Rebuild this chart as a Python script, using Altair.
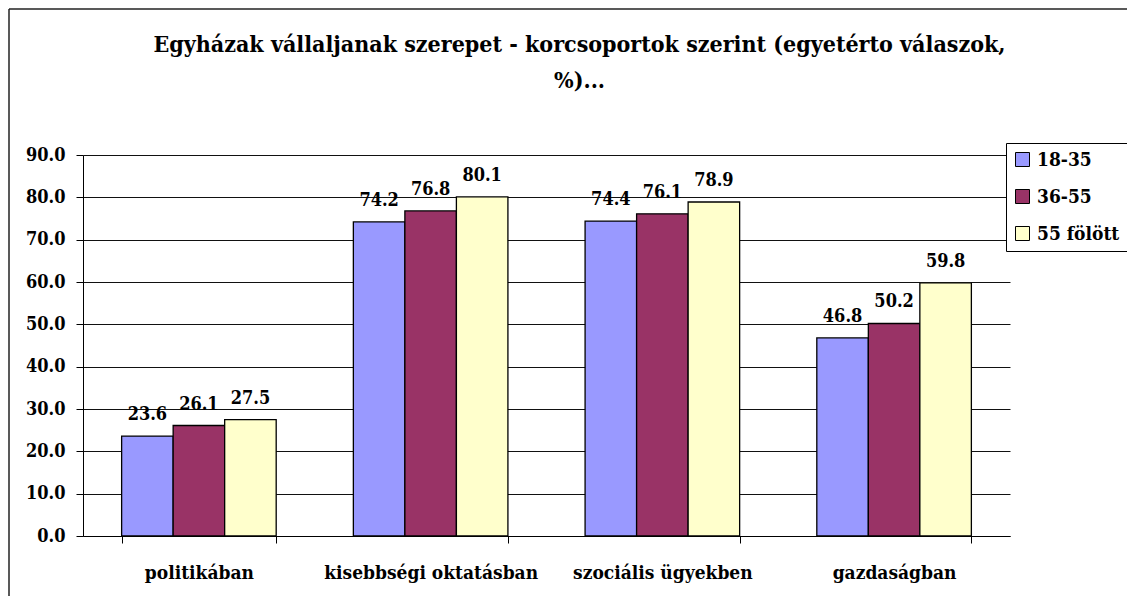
import altair as alt
import pandas as pd

categories = ["politikában", "kisebbségi oktatásban", "szociális ügyekben", "gazdaságban"]
groups = ["18-35", "36-55", "55 fölött"]
values_18_35 = [23.6, 74.2, 74.4, 46.8]
values_36_55 = [26.1, 76.8, 76.1, 50.2]
values_55_plus = [27.5, 80.1, 78.9, 59.8]
colors = ["#9999FF", "#993366", "#FFFFCC"]
y_ticks = [0, 10, 20, 30, 40, 50, 60, 70, 80, 90]
title_lines = ["Egyházak vállaljanak szerepet - korcsoportok szerint (egyetérto válaszok,", "%)..."]

rows = []
for g, vals in zip(groups, [values_18_35, values_36_55, values_55_plus]):
    for c, v in zip(categories, vals):
        rows.append({"kategoria": c, "csoport": g, "ertek": v})
df = pd.DataFrame(rows)

FONT = "DejaVu Serif Condensed"

x_enc = alt.X("kategoria:N", sort=categories, title=None,
              scale=alt.Scale(paddingInner=0.333, paddingOuter=0.1667),
              axis=alt.Axis(labelAngle=0, tickBand="extent", tickSize=7, labelPadding=20,
                            labelLimit=0,
                            domainColor="black", tickColor="black", labelColor="black",
                            labelFont=FONT, labelFontSize=19, labelFontWeight="bold",
                            grid=False, domainWidth=1))
xoff = alt.XOffset("csoport:N", sort=groups, scale=alt.Scale(paddingInner=0, paddingOuter=0))
y_enc = alt.Y("ertek:Q", title=None, scale=alt.Scale(domain=[0, 90], nice=False),
              axis=alt.Axis(values=y_ticks, format=".1f", tickSize=7, labelPadding=11,
                            domainColor="black", tickColor="black", gridColor="#111111",
                            gridWidth=1, grid=True, labelColor="black",
                            labelFont=FONT, labelFontSize=18, labelFontWeight="bold"))

bars = alt.Chart(df).mark_bar(stroke="black", strokeWidth=1.3).encode(
    x=x_enc,
    xOffset=xoff,
    y=y_enc,
    color=alt.Color("csoport:N", sort=groups,
                    scale=alt.Scale(domain=groups, range=colors),
                    legend=alt.Legend(title=None, orient="none", legendX=923, legendY=-12,
                                      symbolType="square", symbolSize=196,
                                      symbolStrokeColor="black", symbolStrokeWidth=1,
                                      labelFont=FONT, labelFontSize=19, labelFontWeight="bold",
                                      labelColor="black", labelOffset=5,
                                      rowPadding=17, padding=7,
                                      strokeColor="black", fillColor="white")),
)

labels = alt.Chart(df).mark_text(font=FONT, fontSize=18, fontWeight="bold", color="black",
                                 baseline="alphabetic", dy=-16).encode(
    x=alt.X("kategoria:N", sort=categories),
    xOffset=alt.XOffset("csoport:N", sort=groups),
    y="ertek:Q",
    text=alt.Text("ertek:Q", format=".1f"),
)

frame_data = pd.DataFrame({"a": [0]})
left_border = alt.Chart(frame_data).mark_rule(color="#222222", strokeWidth=1.5).encode(
    x=alt.value(-74), y=alt.value(-146), y2=alt.value(470))
top_border = alt.Chart(frame_data).mark_rule(color="#222222", strokeWidth=1.5).encode(
    x=alt.value(-74), x2=alt.value(1060), y=alt.value(-146))

chart = alt.layer(left_border, top_border, bars, labels).properties(
    width=927, height=381,
    padding={"left": 75, "top": 147, "right": 117, "bottom": 60},
    autosize=alt.AutoSizeParams(type="none"),
    title=alt.TitleParams(text=title_lines, font=FONT, fontSize=23, fontWeight="bold",
                          color="black", anchor="middle", frame="group", dx=33,
                          offset=10, dy=95, lineHeight=36),
).configure_view(stroke=None)

chart.save("out.html", embed_options={"renderer": "svg", "actions": False})
